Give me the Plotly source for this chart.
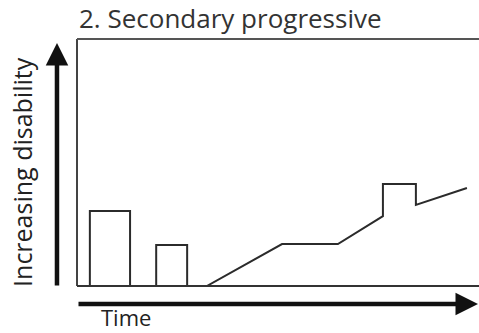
import plotly.graph_objects as go

# --- data (time and disability in arbitrary units, 0-100) ---
relapse_start = [3.2, 19.7]
relapse_end = [13.2, 27.4]
relapse_height = [30.4, 16.6]

progression_time = [32.3, 51.0, 64.9, 76.1, 76.1, 84.3, 84.3, 97.0]
progression_level = [0.0, 17.0, 17.0, 28.3, 41.3, 41.3, 32.8, 39.7]

title_text = "2. Secondary progressive"
y_label = "Increasing disability"
x_label = "Time"

LINE = "#2b2b2b"
FONT = "'Open Sans', 'Noto Sans', sans-serif"

fig = go.Figure()

# relapse episodes as open rectangles
rx, ry = [], []
for s, e, h in zip(relapse_start, relapse_end, relapse_height):
    rx += [s, s, e, e, None]
    ry += [0, h, h, 0, None]
fig.add_trace(go.Scatter(x=rx, y=ry, mode="lines",
                         line=dict(color=LINE, width=2), hoverinfo="skip",
                         showlegend=False))

# progressive phase
fig.add_trace(go.Scatter(x=progression_time, y=progression_level, mode="lines",
                         line=dict(color=LINE, width=2), hoverinfo="skip",
                         showlegend=False))

# plot frame: left, top, bottom (right side runs off the image)
fig.add_shape(type="line", xref="paper", yref="paper", x0=0, x1=0, y0=0, y1=1,
              line=dict(color="#444", width=2))
fig.add_shape(type="line", xref="paper", yref="paper", x0=0, x1=1.01, y0=1, y1=1,
              line=dict(color="#555", width=2))
fig.add_shape(type="line", xref="paper", yref="paper", x0=0, x1=1.01, y0=0, y1=0,
              line=dict(color="#333", width=2))

# axis arrows
fig.add_annotation(xref="paper", yref="paper", x=-0.0498, y=0.984,
                   ax=0, ay=244, axref="pixel", ayref="pixel", text="",
                   showarrow=True, arrowhead=2, arrowsize=1.0, arrowwidth=4.5,
                   arrowcolor="#111", standoff=0, startstandoff=0)
fig.add_annotation(xref="paper", yref="paper", x=0.9975, y=-0.0729,
                   ax=-401, ay=0, axref="pixel", ayref="pixel", text="",
                   showarrow=True, arrowhead=2, arrowsize=1.0, arrowwidth=4.5,
                   arrowcolor="#111", standoff=0, startstandoff=0)

# texts
fig.add_annotation(xref="paper", yref="paper", x=0.0, y=1.085, xanchor="left",
                   yanchor="middle", text=title_text, showarrow=False,
                   font=dict(family=FONT, size=26, color="#333"))
fig.add_annotation(xref="paper", yref="paper", x=-0.137, y=0.4615,
                   xanchor="center", yanchor="middle", textangle=-90,
                   text=y_label, showarrow=False,
                   font=dict(family=FONT, size=25, color="#222"))
fig.add_annotation(xref="paper", yref="paper", x=0.121, y=-0.1903,
                   xanchor="center", yanchor="bottom", text=x_label,
                   showarrow=False, borderpad=0,
                   font=dict(family=FONT, size=22, color="#222"))

fig.update_layout(
    width=479, height=333,
    margin=dict(l=77, r=0, t=39, b=47),
    paper_bgcolor="white", plot_bgcolor="white",
    xaxis=dict(range=[0, 100], visible=False, fixedrange=True),
    yaxis=dict(range=[0, 100], visible=False, fixedrange=True),
    showlegend=False,
)

# remove the browser's default 8px body margin so the figure fills the window
fig.write_html("out.html", config={"displayModeBar": False},
               post_script="document.body.style.margin='0px';")
